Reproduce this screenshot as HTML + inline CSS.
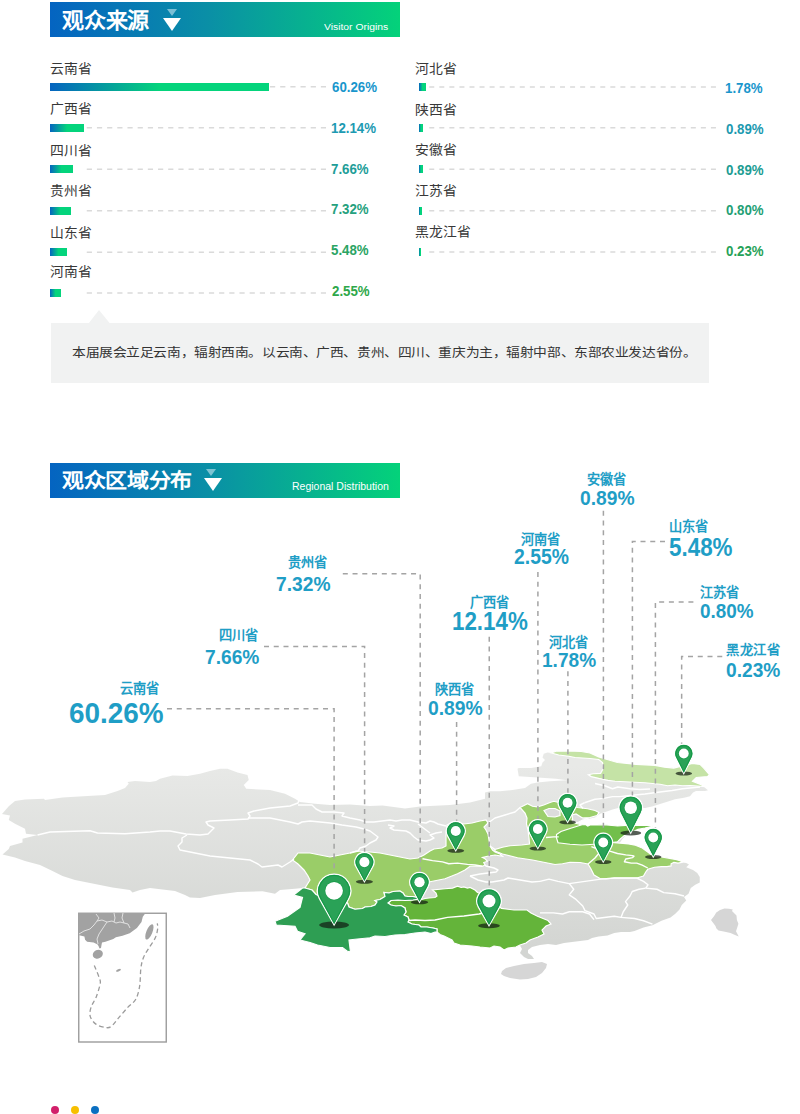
<!DOCTYPE html>
<html lang="zh-CN"><head><meta charset="utf-8">
<style>
*{margin:0;padding:0;box-sizing:border-box}
html,body{width:800px;height:1114px;background:#fff;overflow:hidden;font-family:"Liberation Sans",sans-serif}
body{position:relative}
.a{position:absolute;white-space:nowrap}
.hdr{position:absolute;left:50px;width:350px;height:35px;background:linear-gradient(90deg,#0464c1 0%,#0a8fa6 45%,#04d27a 100%)}
.hdr .t{position:absolute;left:11px;top:4px;font-size:22px;font-weight:bold;color:#fff;line-height:26px;letter-spacing:0}
.hdr .e{position:absolute;right:12px;top:17px;font-size:10.5px;color:#fff;line-height:12px}
.tri1{position:absolute;width:0;height:0;border-left:5.5px solid transparent;border-right:5.5px solid transparent;border-top:7.5px solid rgba(200,230,240,.6)}
.tri2{position:absolute;width:0;height:0;border-left:9.25px solid transparent;border-right:9.25px solid transparent;border-top:13px solid #fff}
.lbl{position:absolute;font-size:13px;color:#333;line-height:16px}
.bar{position:absolute;height:8px;background:linear-gradient(90deg,#0564c0 0%,#04d47c 50%,#04d47c 100%)}
.dash{position:absolute;height:1.5px;background:repeating-linear-gradient(90deg,#dcdcdc 0 5px,transparent 5px 10.3px)}
.pct{position:absolute;font-size:14px;font-weight:bold;line-height:16px;text-align:right;width:80px}
.box{position:absolute;left:51px;top:323px;width:658px;height:60px;background:#f1f2f2}
.box .tx{position:absolute;left:22px;top:21px;font-size:13.3px;letter-spacing:0.42px;color:#333;line-height:18px}
.dot{position:absolute;width:8px;height:8px;border-radius:50%}
</style></head><body>

<!-- header 1 -->
<div class="hdr" style="top:2px">
</div>
<div class="tri1" style="left:166.6px;top:8.9px"></div>
<div class="tri2" style="left:162.7px;top:18px"></div>

<svg class="a" style="left:0;top:0" width="800" height="320" viewBox="0 0 800 320">
<line x1="86.75" y1="86.85" x2="326" y2="86.85" stroke="#dadada" stroke-width="1.5" stroke-dasharray="5.2 4.98"/>
<line x1="86.75" y1="127.85" x2="326" y2="127.85" stroke="#dadada" stroke-width="1.5" stroke-dasharray="5.2 4.98"/>
<line x1="86.75" y1="169.25" x2="326" y2="169.25" stroke="#dadada" stroke-width="1.5" stroke-dasharray="5.2 4.98"/>
<line x1="86.75" y1="210.75" x2="326" y2="210.75" stroke="#dadada" stroke-width="1.5" stroke-dasharray="5.2 4.98"/>
<line x1="86.75" y1="252.25" x2="326" y2="252.25" stroke="#dadada" stroke-width="1.5" stroke-dasharray="5.2 4.98"/>
<line x1="86.75" y1="292.95" x2="326" y2="292.95" stroke="#dadada" stroke-width="1.5" stroke-dasharray="5.2 4.98"/>
<line x1="429.25" y1="86.95" x2="716" y2="86.95" stroke="#dadada" stroke-width="1.5" stroke-dasharray="5 5.06"/>
<line x1="429.25" y1="127.85" x2="716" y2="127.85" stroke="#dadada" stroke-width="1.5" stroke-dasharray="5 5.06"/>
<line x1="429.25" y1="169.15" x2="716" y2="169.15" stroke="#dadada" stroke-width="1.5" stroke-dasharray="5 5.06"/>
<line x1="429.25" y1="210.85" x2="716" y2="210.85" stroke="#dadada" stroke-width="1.5" stroke-dasharray="5 5.06"/>
<line x1="429.25" y1="251.95" x2="716" y2="251.95" stroke="#dadada" stroke-width="1.5" stroke-dasharray="5 5.06"/>
</svg>
<div class="bar" style="left:50.3px;top:82.9px;width:219.10px;height:7.9px"></div>
<div class="bar" style="left:50.25px;top:123.9px;width:33.95px;height:7.9px"></div>
<div class="bar" style="left:50.4px;top:165.3px;width:22.50px;height:7.9px"></div>
<div class="bar" style="left:50.4px;top:206.8px;width:20.40px;height:7.9px"></div>
<div class="bar" style="left:50.4px;top:248.3px;width:16.90px;height:7.9px"></div>
<div class="bar" style="left:50.4px;top:289px;width:10.30px;height:7.9px"></div>
<div class="bar" style="left:418.6px;top:83px;width:7.50px;height:7.9px"></div>
<div class="bar" style="left:418.8px;top:123.9px;width:4.30px;height:7.9px"></div>
<div class="bar" style="left:418.8px;top:165.2px;width:4.30px;height:7.9px"></div>
<div class="bar" style="left:418.8px;top:206.9px;width:3.40px;height:7.9px"></div>
<div class="bar" style="left:418.8px;top:248px;width:2.30px;height:7.9px"></div>






<!-- right column -->





<!-- callout box -->
<svg class="a" style="left:88px;top:309px" width="23" height="15"><polygon points="0.5,14.5 11,1 22,14.5" fill="#f1f2f2"/></svg>
<div class="box"></div>

<!-- header 2 -->
<div class="hdr" style="top:462.5px">
</div>
<div class="tri1" style="left:206.2px;top:468.75px"></div>
<div class="tri2" style="left:204.3px;top:477.75px"></div>

<svg class="a" style="left:0;top:0" width="800" height="1114" viewBox="0 0 800 1114">
<defs><linearGradient id="gg" x1="0" y1="765" x2="0" y2="950" gradientUnits="userSpaceOnUse"><stop offset="0" stop-color="#e8e9e7"/><stop offset="1" stop-color="#d3d5d2"/></linearGradient></defs>
<path d="M2,814 L9,806 L15,801 L25,799.5 L44,798.75 L45,800 L62.5,797.5 L87.5,796 L105,795 L117.5,791 L125,788 L128.75,783.75 L127.5,782 L135,781 L150,782 L156,781 L160,778.75 L172.5,775.5 L187.5,776 L200,773.75 L210,771 L220,768.75 L227.5,768.75 L237.5,772.5 L247.5,775 L248.75,780 L243.75,785 L246.25,788.75 L270,790 L285,793.75 L295,798.75 L300,802 L315,803.75 L330,805 L350,804.5 L370,806 L382.5,805.5 L405,808.5 L420,806.5 L450,805 L470,802.5 L485,798.75 L485,792.5 L490,791.25 L500,791.25 L512.5,790 L525,788 L531,783.75 L537.5,782.5 L550,781.25 L562.5,780.6 L567.5,780.25 L556,778.75 L537.5,777.5 L518.75,776.25 L517.5,768.75 L518.75,768 L531.25,768 L541.25,766.25 L542.5,762.5 L545,760 L542.5,757.5 L543.75,753.75 L547.5,752.5 L551.25,753 L556,751.25 L568.75,751 L581.25,751.5 L590,753 L598.75,756.9 L608,759.7 L617.5,762.5 L636.25,764.4 L655,765.3 L664.4,767.2 L673.75,768.1 L692.5,763.4 L700,764.4 L703.75,768.1 L709.4,774.7 L707.5,776.6 L696.25,777.5 L692.5,781.25 L701.9,785 L703.5,786.5 L708,790.25 L705,791 L696,791 L693,792.5 L690,796.25 L684,797.75 L675,799.25 L668,801.5 L660,804 L652,806.5 L645,808 L632,807.5 L620,807.5 L612.5,809.4 L607.5,811.25 L600,813.75 L595,817.5 L588.75,818.75 L582.5,820 L578,822.5 L580,824.5 L582.5,824.4 L588.75,826.25 L595,825 L602.5,825.6 L607.5,827.5 L613.75,829 L617.5,827.5 L622.5,826.25 L630,826.25 L638.75,825.6 L645,825.6 L651.25,825 L653,825.6 L645,826.9 L638.75,828 L632.5,831.25 L626.25,835 L622.5,838.75 L620,842.5 L620.25,843.2 L628.5,843.9 L635.4,845.25 L642.25,848 L647.75,852.1 L653.25,856.25 L661.5,857 L669.75,858.3 L676.6,859.7 L680.75,861 L682,862.4 L686.25,863.1 L689,864.5 L686.25,867.25 L693,870 L697.25,873 L699.75,877 L699.75,882.5 L695.25,884.75 L690.75,888 L688.5,893.75 L684,897 L686.25,900.5 L681.75,905 L679.5,909.5 L675,914 L670.5,917.4 L661.5,920.75 L657,923 L652.5,925.25 L643.5,927.5 L634.5,931 L630,932 L621,932 L614.25,933.1 L607.5,935.4 L598.5,936.5 L592,938 L588,940 L580,941 L572,942 L564,943 L556,945 L548,944 L540,945 L532,947 L528,950 L528,953 L532,956 L534,959 L528,959 L524,957 L520,953 L522,949 L520,945.5 L516,947 L508,948 L504,950 L500,947 L494,946 L490,948 L480,947 L472,946 L460,945 L454,943 L452,940 L444,936 L440,934.5 L437,932 L435,932 L431,933.5 L425,932 L415,933 L405,934.5 L395,935 L385,936.5 L375,936 L370,937.75 L362.5,938.5 L355,939.25 L349,940 L350.5,952 L347,951 L342.5,947.5 L330,947.5 L317.5,945 L310,942.5 L300,940 L305,933.75 L297.5,931.25 L295,926.25 L276.25,925 L275,921.25 L287.5,916.25 L300,907.5 L302.5,897.5 L293.75,895 L302.5,888 L295,888.75 L280,890 L275,893.75 L262.5,891.25 L237.5,892 L215,895 L200,898 L190,897.5 L185,895 L175,891 L150,888 L140,890 L132.5,892.5 L130,890 L112.5,887.5 L100,885 L87.5,882.5 L75,880 L62.5,876 L52.5,871 L40,865 L25,861 L15,857.5 L2.5,854.5 L8.75,849 L10,846 L22.5,842.5 L22.5,838.75 L37.5,835 L26,833.75 L25,828.75 L15,823.75 L8.75,820 L10,815.5 Z" fill="url(#gg)"/>
<path d="M502,971 L506,968 L514,966 L524,964 L534,963 L542,962 L547,964 L546,968 L542,973 L536,977 L528,979 L520,979.6 L510,978 L504,976 L501,974 Z" fill="#d6d6d6"/>
<path d="M711,920 L714,916.25 L716.25,912.5 L720,909.9 L724.5,908.4 L729,908.75 L732.75,909.5 L732,911 L735,914 L736.5,915.5 L736.9,920 L738.4,923.75 L737.25,927.5 L736,931.25 L738.75,936.5 L735,935 L730.5,933.1 L723.75,931.6 L718.5,930.5 L716.25,928.25 L715.5,926 L713.25,923 Z" fill="#d6d6d6"/>
<path d="M551.25,753 L556,751.25 L568.75,751 L581.25,751.5 L590,753 L598.75,756.9 L608,759.7 L617.5,762.5 L636.25,764.4 L655,765.3 L664.4,767.2 L673.75,768.1 L692.5,763.4 L700,764.4 L703.75,768.1 L709.4,774.7 L707.5,776.6 L696.25,777.5 L692.5,781.25 L701.9,785 L703.5,786.5 L697.5,786 L690,785.5 L682.5,785.75 L675,785 L667.5,785.75 L660,784.25 L645,782.75 L630,782 L615,781.25 L608,780.3 L598.75,778.4 L591.25,776.6 L588.4,774.7 L593.1,773.75 L600.6,773.4 L603.4,768.1 L602.5,762.5 L598.75,759.5 L590,758.5 L575,757.5 L568.75,756.25 L558.75,755 Z" fill="#c5e3a6" stroke="#fff" stroke-width="1.2"/>
<path d="M292.5,860 L298,853 L310,853 L320,855 L330,857 L340,855 L350,853 L356,851 L370,852 L380,853 L390,855 L400,857 L410,859 L418,858 L424,855 L430,851 L434,849 L442,848 L446,846 L446,835 L447,825 L455,822 L464,824 L472,823 L480,821 L486,820 L488,823 L484,827 L486,830 L488,834 L489,840 L490,846 L492.5,850 L495,852 L500,854 L502.5,856.25 L495,855 L487.5,856.25 L482.5,857.5 L485,858.75 L487.5,861.25 L483.75,862.5 L485,865 L482.5,866.25 L470,866.25 L465,870 L457.5,873.75 L451.25,876.25 L445,878.75 L438.75,880 L432.5,881.25 L426.25,882.5 L421,884 L418,895 L417,897.5 L413,896.5 L408,896.5 L405,896 L403,893 L400,891 L393,891.5 L389,893 L384,892.5 L385,896.5 L380,899.5 L375,900.5 L377,902 L375,905 L371,906.5 L365,907 L362.5,908.5 L355,909.25 L349,907 L347.5,903 L334,900 L322,897 L316,894.5 L312,890 L305,888 L310,880 L308,876 L304,870 L298,864 Z" fill="#9acd68" stroke="#fff" stroke-width="1.2"/>
<path d="M520,807.5 L525,805 L527.5,803.75 L532.5,806.25 L537.5,806.9 L543.75,805 L550,802.5 L553.75,801.25 L558.75,802.5 L567,804 L577.5,807.5 L587.5,808.75 L595,810.5 L599,812.5 L597,815.5 L590,817.5 L582.5,818 L576,817 L572,820 L575,823 L580,824.5 L600,832 L612,842.5 L620.25,843.2 L628.5,843.9 L635.4,845.25 L642.25,848 L647.75,852.1 L653.25,856.25 L661.5,857 L669.75,858.3 L676.6,859.7 L680.75,861 L682,862.4 L678,863.1 L673.9,862.4 L671.1,863.8 L671.1,865.9 L667,866.6 L661.5,866.6 L654.6,867.25 L647.75,869.3 L645.75,872 L643.5,876 L636.75,878 L625,878 L614.25,878 L606,879 L600,878.5 L594,875 L591,869 L588,864 L580,862.5 L570,862.25 L562.5,863.75 L555,864.5 L547.5,863 L532.5,860 L517.5,857.75 L502.5,854 L495,851 L495,849.5 L502.5,847.25 L510,845.75 L522,845 L529.5,844 L529,838 L528,830 L526.5,824 L527,818 L525,813 Z" fill="#9ccf6c" stroke="#fff" stroke-width="1.2"/>
<path d="M544,810.5 L549,808.5 L555,808.5 L560,811 L560,815.5 L555,817 L548,816.5 Z" fill="#dcdcdc" stroke="#fff" stroke-width="1.2"/>
<path d="M572,815 L576,814 L582.5,818 L588.75,818.75 L582.5,820 L578,822.5 L573,822 Z" fill="#dcdcdc" stroke="#fff" stroke-width="1.2"/>
<path d="M556.5,834.5 L561,831.5 L570,828.5 L582,824.75 L585.5,824.6 L587.75,826 L590,825 L597.5,825 L603.75,824.6 L617.5,826 L625.75,825.3 L638,825.3 L652,825.3 L653.25,826 L645,828 L638,829.4 L631.25,832.2 L624.4,835.6 L620.25,839 L617.5,841.8 L612,842.5 L603.75,844 L594,844.25 L582,845 L570,844.25 L558,842.75 L556.5,838 Z" fill="#72bf4b" stroke="#fff" stroke-width="1.2"/>
<path d="M388,903 L391,900.5 L398,900 L405,900.5 L413,900 L417,899.5 L420,900 L425,898.5 L429,898 L435,897.5 L437,896 L436,893 L432.5,890 L445,888.75 L452.5,888.1 L457.5,886.25 L461.25,887.5 L463.75,886.9 L467.5,888.1 L470,887.5 L475,890 L477.5,892.5 L482.5,893.75 L489,896 L497,905 L501.5,908.4 L514,910 L527,910 L531,913 L537.5,916.25 L548,920.5 L551,924 L546,926 L542,930 L544,934 L538,937 L530,940 L526,943 L520,945 L516,947 L508,948 L504,950 L500,947 L494,946 L490,948 L480,947 L472,946 L460,945 L454,943 L452,940 L444,936 L440,934.5 L437,932 L437,929 L433,928 L427,927 L421,927 L419,925 L412,924 L408,922 L409,920 L408,917 L404,915 L406,912 L405,908 L401,905.5 L396,906 L391,905 Z" fill="#64b43a" stroke="#fff" stroke-width="1.2"/>
<path d="M305,888 L312,890 L316,894.5 L322,897 L334,900 L347.5,903 L349,907 L355,909.25 L362.5,908.5 L365,907 L371,906.5 L375,905 L377,902 L375,900.5 L380,899.5 L385,896.5 L384,892.5 L389,893 L393,891.5 L400,891 L403,893 L405,896 L408,896.5 L413,896.5 L417,897.5 L420,899 L413,900 L405,900.5 L398,900 L391,900.5 L388,903 L391,905 L396,906 L401,905.5 L405,908 L406,912 L404,915 L408,917 L409,920 L408,922 L412,924 L419,925 L421,927 L427,927 L433,928 L437,929 L437,932 L435,932 L431,933.5 L425,932 L415,933 L405,934.5 L395,935 L385,936.5 L375,936 L370,937.75 L362.5,938.5 L355,939.25 L349,940 L350.5,952 L347,951 L342.5,947.5 L330,947.5 L317.5,945 L310,942.5 L300,940 L305,933.75 L297.5,931.25 L295,926.25 L276.25,925 L275,921.25 L287.5,916.25 L300,907.5 L302.5,897.5 L293.75,895 L302.5,888 Z" fill="#2e9e53" stroke="#fff" stroke-width="1.2"/>
<path d="M37.5,835 L50,832 L90,830.75 L97.5,833 L125,833.75 L150,832 L160,831 L170,831 L186,834 L200,835 L208,834 L212,830 L214,828 L208,825 L206,822 L210,821 L230,820 L248,819 L250,816 L248,813 L254,811 L270,808 L290,806 L298,803 L299,800" fill="none" stroke="#fff" stroke-width="1.4" stroke-linejoin="round"/>
<path d="M248,818 L270,818 L290,822 L298,824 L302,822 L310,821 L320,822 L330,823 L342,825 L356,827 L364,829 L370,831 L374,834 L378,837 L376,840 L370,843 L366,846 L360,848 L358,851 L350,853" fill="none" stroke="#fff" stroke-width="1.4" stroke-linejoin="round"/>
<path d="M187,835 L182,838 L182,842 L178,846 L180,850 L190,852 L200,854 L210,856 L230,858 L250,860 L258,864 L262,867 L270,866 L278,865 L282,867 L290,862 L294,859" fill="none" stroke="#fff" stroke-width="1.4" stroke-linejoin="round"/>
<path d="M298,805 L312,805 L316,809 L322,812 L334,812 L344,813 L342,816 L350,818 L360,820 L366,822 L374,822 L382,821 L390,820 L396,821 L402,820 L410,820 L418,822 L426,823 L430,821 L434,822 L438,824 L446,826" fill="none" stroke="#fff" stroke-width="1.4" stroke-linejoin="round"/>
<path d="M388,825 L394,826 L390,828 L394,830 L406,831 L410,833 L414,837 L418,840 L426,841 L430,840 L434,838 L430,835 L436,833 L442,832" fill="none" stroke="#fff" stroke-width="1.4" stroke-linejoin="round"/>
<path d="M418,824 L422,827 L426,830 L430,833" fill="none" stroke="#fff" stroke-width="1.4" stroke-linejoin="round"/>
<path d="M422.5,858.75 L432.5,860.6 L442.5,861.9 L448.75,863.75 L457.5,863.1 L467.5,864.4 L475,865 L482.5,866.25" fill="none" stroke="#fff" stroke-width="1.4" stroke-linejoin="round"/>
<path d="M409,920.5 L415,920 L425,920.5 L435,920 L447.5,917.4 L464,916 L479,914 L497,909.5" fill="none" stroke="#fff" stroke-width="1.4" stroke-linejoin="round"/>
<path d="M540,881.4 L549,879.1 L558,881.4 L569.25,883.6 L585,881.4 L600.75,879.1 L614.25,878 L636.75,878 L643.5,881.4 L648,884.75 L645.75,888.1" fill="none" stroke="#fff" stroke-width="1.4" stroke-linejoin="round"/>
<path d="M569.25,883.6 L573.75,889.25 L569.25,894.9 L576,899.4 L582.75,906 L585,910.6 L594,914 L596.25,918.5 L614.25,916.25 L621,917.4 L623.25,911.75 L627.75,905 L625.5,901.6 L630,896 L632.25,891.5 L639,889.25 L645.75,888.1" fill="none" stroke="#fff" stroke-width="1.4" stroke-linejoin="round"/>
<path d="M645.75,888.1 L657,889.25 L663.75,892.6 L675,893.75 L684,896" fill="none" stroke="#fff" stroke-width="1.4" stroke-linejoin="round"/>
<path d="M621,917.4 L634.5,918.5 L643.5,920.75 L652.5,924.1" fill="none" stroke="#fff" stroke-width="1.4" stroke-linejoin="round"/>
<path d="M540,912.9 L553.5,912.9 L562.5,914 L569.25,911.75 L582.75,911.75 L589.5,914 L594,919.6" fill="none" stroke="#fff" stroke-width="1.4" stroke-linejoin="round"/>
<path d="M492,882 L504,880 L508,878 L520,880 L532,882 L540,881.4" fill="none" stroke="#fff" stroke-width="1.4" stroke-linejoin="round"/>
<path d="M470,876 L480,874 L488,873 L496,872 L498,870 L494,868 L486,866 L485,865" fill="none" stroke="#fff" stroke-width="1.4" stroke-linejoin="round"/>
<path d="M470,876 L478,880 L486,882 L492,882" fill="none" stroke="#fff" stroke-width="1.4" stroke-linejoin="round"/>
<path d="M584.5,802.75 L595,799.25 L603.75,798.4 L612.5,796.6 L619.5,796.6 L630,795.5 L645,794 L658,792.25 L672,790.5 L682.5,788.75 L700,787" fill="none" stroke="#fff" stroke-width="1.4" stroke-linejoin="round"/>
<path d="M583,808.5 L580,805 L584.5,802.75" fill="none" stroke="#fff" stroke-width="1.4" stroke-linejoin="round"/>
<path d="M595,783.5 L605.5,786 L612.5,788.75 L617.75,787 L630,788.75 L640,789.5 L650,789" fill="none" stroke="#fff" stroke-width="1.4" stroke-linejoin="round"/>
<path d="M546,837.5 L553.75,836.9 L558.75,836.9" fill="none" stroke="#fff" stroke-width="1.4" stroke-linejoin="round"/>
<path d="M591.4,846.6 L600,850 L610.6,851.4 L617.5,853.5 L625.75,854.9 L632.6,855.6 L634,856.25 L632.6,857.6 L625.75,859 L624.4,861.75 L631.25,863.1 L636.75,863.1 L642.25,865.2 L647.75,868" fill="none" stroke="#fff" stroke-width="1.4" stroke-linejoin="round"/>
<path d="M588,864 L595,858 L600,852" fill="none" stroke="#fff" stroke-width="1.4" stroke-linejoin="round"/>
<path d="M488,823 L495,818 L505,815 L515,812 L520,807.5" fill="none" stroke="#fff" stroke-width="1.4" stroke-linejoin="round"/>
<path d="M490,846 L495,849.5" fill="none" stroke="#fff" stroke-width="1.4" stroke-linejoin="round"/>
<path d="M167,708.7 L334.1,708.7 L334.1,874" fill="none" stroke="#a4a4a4" stroke-width="1.5" stroke-dasharray="5 4.75"/>
<path d="M264,646.4 L364.6,646.4 L364.6,852.5" fill="none" stroke="#a4a4a4" stroke-width="1.5" stroke-dasharray="5 4.75"/>
<path d="M342.8,573.8 L420.2,573.8 L420.2,872.5" fill="none" stroke="#a4a4a4" stroke-width="1.5" stroke-dasharray="5 4.75"/>
<path d="M489.25,636.75 L489.25,888.7" fill="none" stroke="#a4a4a4" stroke-width="1.5" stroke-dasharray="5 4.75"/>
<path d="M456.6,721.9 L456.6,821.5" fill="none" stroke="#a4a4a4" stroke-width="1.5" stroke-dasharray="5 4.75"/>
<path d="M537.9,571.9 L537.9,819.6" fill="none" stroke="#a4a4a4" stroke-width="1.5" stroke-dasharray="5 4.75"/>
<path d="M567.9,671.25 L567.9,793.4" fill="none" stroke="#a4a4a4" stroke-width="1.5" stroke-dasharray="5 4.75"/>
<path d="M603.4,510.75 L603.4,833" fill="none" stroke="#a4a4a4" stroke-width="1.5" stroke-dasharray="5 4.75"/>
<path d="M665,541.4 L632.4,541.4 L632.4,796" fill="none" stroke="#a4a4a4" stroke-width="1.5" stroke-dasharray="5 4.75"/>
<path d="M693.4,602.1 L655.4,602.1 L655.4,828" fill="none" stroke="#a4a4a4" stroke-width="1.5" stroke-dasharray="5 4.75"/>
<path d="M722.25,656.4 L681.65,656.4 L681.65,744" fill="none" stroke="#a4a4a4" stroke-width="1.5" stroke-dasharray="5 4.75"/>
<ellipse cx="334.10" cy="925.00" rx="14.86" ry="3.51" fill="rgba(20,30,20,0.72)"/>
<path d="M334.10,925.00 L348.67,898.95 A16.70,16.70 0 1 0 319.53,898.95 Z" fill="#2aa257" stroke="#fff" stroke-width="1.3"/>
<path d="M334.10,923.20 L347.59,898.02 A15.30,15.30 0 1 0 320.61,898.02 Z" fill="none" stroke="#159a47" stroke-width="1.1"/>
<circle cx="334.10" cy="890.80" r="9.45" fill="#159a47"/>
<circle cx="334.10" cy="890.80" r="8.85" fill="#fff"/>
<ellipse cx="364.40" cy="881.75" rx="8.54" ry="2.02" fill="rgba(20,30,20,0.72)"/>
<path d="M364.40,881.75 L372.78,866.79 A9.60,9.60 0 1 0 356.02,866.79 Z" fill="#2aa257" stroke="#fff" stroke-width="1.3"/>
<path d="M364.40,879.95 L371.68,865.87 A8.20,8.20 0 1 0 357.12,865.87 Z" fill="none" stroke="#159a47" stroke-width="1.1"/>
<circle cx="364.40" cy="862.10" r="5.69" fill="#159a47"/>
<circle cx="364.40" cy="862.10" r="5.09" fill="#fff"/>
<ellipse cx="419.50" cy="902.25" rx="8.68" ry="2.05" fill="rgba(20,30,20,0.72)"/>
<path d="M419.50,902.25 L428.02,886.94 A9.75,9.75 0 1 0 410.98,886.94 Z" fill="#2aa257" stroke="#fff" stroke-width="1.3"/>
<path d="M419.50,900.45 L426.92,886.02 A8.35,8.35 0 1 0 412.08,886.02 Z" fill="none" stroke="#159a47" stroke-width="1.1"/>
<circle cx="419.50" cy="882.20" r="5.77" fill="#159a47"/>
<circle cx="419.50" cy="882.20" r="5.17" fill="#fff"/>
<ellipse cx="489.00" cy="925.75" rx="10.90" ry="2.57" fill="rgba(20,30,20,0.72)"/>
<path d="M489.00,925.75 L499.64,907.06 A12.25,12.25 0 1 0 478.36,907.06 Z" fill="#2aa257" stroke="#fff" stroke-width="1.3"/>
<path d="M489.00,923.95 L498.56,906.13 A10.85,10.85 0 1 0 479.44,906.13 Z" fill="none" stroke="#159a47" stroke-width="1.1"/>
<circle cx="489.00" cy="901.00" r="7.09" fill="#159a47"/>
<circle cx="489.00" cy="901.00" r="6.49" fill="#fff"/>
<ellipse cx="455.75" cy="850.75" rx="8.46" ry="1.99" fill="rgba(20,30,20,0.72)"/>
<path d="M455.75,850.75 L464.08,835.57 A9.50,9.50 0 1 0 447.42,835.57 Z" fill="#2aa257" stroke="#fff" stroke-width="1.3"/>
<path d="M455.75,848.95 L462.98,834.66 A8.10,8.10 0 1 0 448.52,834.66 Z" fill="none" stroke="#159a47" stroke-width="1.1"/>
<circle cx="455.75" cy="831.00" r="5.63" fill="#159a47"/>
<circle cx="455.75" cy="831.00" r="5.04" fill="#fff"/>
<ellipse cx="537.80" cy="848.50" rx="8.28" ry="1.95" fill="rgba(20,30,20,0.72)"/>
<path d="M537.80,848.50 L545.97,833.44 A9.30,9.30 0 1 0 529.63,833.44 Z" fill="#2aa257" stroke="#fff" stroke-width="1.3"/>
<path d="M537.80,846.70 L544.87,832.53 A7.90,7.90 0 1 0 530.73,832.53 Z" fill="none" stroke="#159a47" stroke-width="1.1"/>
<circle cx="537.80" cy="829.00" r="5.53" fill="#159a47"/>
<circle cx="537.80" cy="829.00" r="4.93" fill="#fff"/>
<ellipse cx="567.60" cy="822.25" rx="8.37" ry="1.97" fill="rgba(20,30,20,0.72)"/>
<path d="M567.60,822.25 L575.83,807.34 A9.40,9.40 0 1 0 559.37,807.34 Z" fill="#2aa257" stroke="#fff" stroke-width="1.3"/>
<path d="M567.60,820.45 L574.73,806.43 A8.00,8.00 0 1 0 560.47,806.43 Z" fill="none" stroke="#159a47" stroke-width="1.1"/>
<circle cx="567.60" cy="802.80" r="5.58" fill="#159a47"/>
<circle cx="567.60" cy="802.80" r="4.98" fill="#fff"/>
<ellipse cx="630.75" cy="833.00" rx="10.46" ry="2.47" fill="rgba(20,30,20,0.72)"/>
<path d="M630.75,833.00 L641.15,813.22 A11.75,11.75 0 1 0 620.35,813.22 Z" fill="#2aa257" stroke="#fff" stroke-width="1.3"/>
<path d="M630.75,831.20 L640.04,812.32 A10.35,10.35 0 1 0 621.46,812.32 Z" fill="none" stroke="#159a47" stroke-width="1.1"/>
<circle cx="630.75" cy="807.75" r="6.83" fill="#159a47"/>
<circle cx="630.75" cy="807.75" r="6.23" fill="#fff"/>
<ellipse cx="603.25" cy="862.00" rx="8.28" ry="1.95" fill="rgba(20,30,20,0.72)"/>
<path d="M603.25,862.00 L611.42,846.94 A9.30,9.30 0 1 0 595.08,846.94 Z" fill="#2aa257" stroke="#fff" stroke-width="1.3"/>
<path d="M603.25,860.20 L610.32,846.03 A7.90,7.90 0 1 0 596.18,846.03 Z" fill="none" stroke="#159a47" stroke-width="1.1"/>
<circle cx="603.25" cy="842.50" r="5.53" fill="#159a47"/>
<circle cx="603.25" cy="842.50" r="4.93" fill="#fff"/>
<ellipse cx="653.25" cy="857.00" rx="8.28" ry="1.95" fill="rgba(20,30,20,0.72)"/>
<path d="M653.25,857.00 L661.42,841.94 A9.30,9.30 0 1 0 645.08,841.94 Z" fill="#2aa257" stroke="#fff" stroke-width="1.3"/>
<path d="M653.25,855.20 L660.32,841.03 A7.90,7.90 0 1 0 646.18,841.03 Z" fill="none" stroke="#159a47" stroke-width="1.1"/>
<circle cx="653.25" cy="837.50" r="5.53" fill="#159a47"/>
<circle cx="653.25" cy="837.50" r="4.93" fill="#fff"/>
<ellipse cx="683.80" cy="773.50" rx="8.28" ry="1.95" fill="rgba(20,30,20,0.72)"/>
<path d="M683.80,773.50 L692.03,757.82 A9.30,9.30 0 1 0 675.57,757.82 Z" fill="#2aa257" stroke="#fff" stroke-width="1.3"/>
<path d="M683.80,771.70 L690.92,756.93 A7.90,7.90 0 1 0 676.68,756.93 Z" fill="none" stroke="#159a47" stroke-width="1.1"/>
<circle cx="683.80" cy="753.50" r="5.53" fill="#159a47"/>
<circle cx="683.80" cy="753.50" r="4.93" fill="#fff"/>
</svg>
<svg class="a" style="left:0;top:0" width="800" height="1114" viewBox="0 0 800 1114">
<rect x="78.75" y="913.25" width="87.5" height="128.75" fill="#fff" stroke="#9c9c9c" stroke-width="1.4"/>
<path d="M78.1,913 L145.5,913 L142.8,916.8 L141.5,922.1 L136.9,928 L129.7,933.2 L122.5,935.8 L115.9,937.2 L113.3,939.1 L105.4,941.75 L102,942.5 L101.5,945 L101,948 L99.5,948.5 L98.5,946 L97.6,944.4 L93.6,942.4 L87.1,941.75 L85.1,939.8 L84.4,936.5 L79.2,935.2 L78.1,935.2 Z" fill="#a2a2a2"/>
<ellipse cx="97.8" cy="954.2" rx="5.2" ry="4.3" transform="rotate(-25 97.8 954.2)" fill="#a2a2a2"/>
<ellipse cx="149.4" cy="931.9" rx="3" ry="8.2" transform="rotate(22 149.4 931.9)" fill="#a2a2a2"/>
<ellipse cx="118.5" cy="970.3" rx="2.6" ry="1.1" transform="rotate(-25 118.5 970.3)" fill="#a2a2a2"/>
<path d="M94.30,965.40 C95.17,967.58 98.52,975.44 99.50,978.50 C100.48,981.56 100.74,980.68 100.20,983.75 C99.66,986.82 97.78,992.96 96.25,996.90 C94.72,1000.84 91.99,1004.12 91.00,1007.40 C90.01,1010.68 89.42,1013.77 90.30,1016.60 C91.17,1019.43 93.51,1022.55 96.25,1024.40 C98.99,1026.25 104.12,1027.48 106.75,1027.70 C109.38,1027.92 110.03,1027.38 112.00,1025.75 C113.97,1024.12 115.97,1020.96 118.60,1017.90 C121.22,1014.84 124.92,1010.47 127.75,1007.40 C130.58,1004.33 133.62,1003.00 135.60,999.50 C137.57,996.00 138.72,991.65 139.60,986.40 C140.48,981.15 140.25,972.82 140.90,968.00 C141.55,963.18 142.19,960.78 143.50,957.50 C144.81,954.22 146.78,951.58 148.75,948.30 C150.72,945.02 153.81,941.08 155.30,937.80 C156.79,934.52 157.37,931.00 157.70,928.60 C158.03,926.20 157.37,924.27 157.30,923.40" fill="none" stroke="#9c9c9c" stroke-width="1.3" stroke-dasharray="4.5 3"/>
<path d="M79,934 L84,931 L90,929 L94,925 L97,921 L99,918 L96,914" fill="none" stroke="#e8e8e8" stroke-width="0.9"/>
<path d="M97,921 L102,920 L107,922 L112,921 L116,923 L120,922 L124,923" fill="none" stroke="#e8e8e8" stroke-width="0.9"/>
<path d="M114,913 L115,918 L114,922" fill="none" stroke="#e8e8e8" stroke-width="0.9"/>
<path d="M123,913 L122,918 L124,923" fill="none" stroke="#e8e8e8" stroke-width="0.9"/>
<path d="M124,923 L128,924 L130,928" fill="none" stroke="#e8e8e8" stroke-width="0.9"/>
<path d="M107,922 L103,928 L99,934 L97,939 L98,944" fill="none" stroke="#e8e8e8" stroke-width="0.9"/>
</svg>
<div class="a" style="left:62.00px;top:10.46px;font-size:21.200px;line-height:1;font-weight:bold;color:#fff;transform:scaleX(1.0377);transform-origin:0 0;">观众来源</div>
<div class="a" style="left:323.50px;top:21.88px;font-size:9.660px;line-height:1;font-weight:normal;color:#fff;transform:scaleX(1.0702);transform-origin:0 0;">Visitor Origins</div>
<div class="a" style="left:61.75px;top:471.42px;font-size:20.300px;line-height:1;font-weight:bold;color:#fff;transform:scaleX(1.0833);transform-origin:0 0;">观众区域分布</div>
<div class="a" style="left:291.50px;top:481.52px;font-size:10.290px;line-height:1;font-weight:normal;color:#fff;transform:scaleX(1.0204);transform-origin:0 0;">Regional Distribution</div>
<div class="a" style="left:50.24px;top:61.90px;font-size:13.000px;line-height:1;font-weight:normal;color:#383838;transform:scaleX(1.0649);transform-origin:0 0;">云南省</div>
<div class="a" style="left:49.94px;top:102.00px;font-size:13.000px;line-height:1;font-weight:normal;color:#383838;transform:scaleX(1.0649);transform-origin:0 0;">广西省</div>
<div class="a" style="left:50.34px;top:144.30px;font-size:13.000px;line-height:1;font-weight:normal;color:#383838;transform:scaleX(1.0649);transform-origin:0 0;">四川省</div>
<div class="a" style="left:50.34px;top:184.20px;font-size:13.000px;line-height:1;font-weight:normal;color:#383838;transform:scaleX(1.0649);transform-origin:0 0;">贵州省</div>
<div class="a" style="left:50.34px;top:225.70px;font-size:13.000px;line-height:1;font-weight:normal;color:#383838;transform:scaleX(1.0649);transform-origin:0 0;">山东省</div>
<div class="a" style="left:49.94px;top:265.30px;font-size:13.000px;line-height:1;font-weight:normal;color:#383838;transform:scaleX(1.0649);transform-origin:0 0;">河南省</div>
<div class="a" style="left:414.94px;top:62.10px;font-size:13.000px;line-height:1;font-weight:normal;color:#383838;transform:scaleX(1.0649);transform-origin:0 0;">河北省</div>
<div class="a" style="left:414.94px;top:102.60px;font-size:13.000px;line-height:1;font-weight:normal;color:#383838;transform:scaleX(1.0649);transform-origin:0 0;">陕西省</div>
<div class="a" style="left:414.94px;top:143.00px;font-size:13.000px;line-height:1;font-weight:normal;color:#383838;transform:scaleX(1.0649);transform-origin:0 0;">安徽省</div>
<div class="a" style="left:414.94px;top:184.10px;font-size:13.000px;line-height:1;font-weight:normal;color:#383838;transform:scaleX(1.0649);transform-origin:0 0;">江苏省</div>
<div class="a" style="left:414.94px;top:225.20px;font-size:13.000px;line-height:1;font-weight:normal;color:#383838;transform:scaleX(1.0649);transform-origin:0 0;">黑龙江省</div>
<div class="a" style="left:332.10px;top:79.28px;font-size:15.540px;line-height:1;font-weight:bold;color:#1996cc;transform:scaleX(0.8559);transform-origin:0 0;">60.26%</div>
<div class="a" style="left:331.15px;top:119.98px;font-size:15.540px;line-height:1;font-weight:bold;color:#1d9ab2;transform:scaleX(0.8559);transform-origin:0 0;">12.14%</div>
<div class="a" style="left:331.15px;top:160.68px;font-size:15.540px;line-height:1;font-weight:bold;color:#219d98;transform:scaleX(0.8559);transform-origin:0 0;">7.66%</div>
<div class="a" style="left:331.15px;top:201.38px;font-size:15.540px;line-height:1;font-weight:bold;color:#26a17e;transform:scaleX(0.8559);transform-origin:0 0;">7.32%</div>
<div class="a" style="left:331.15px;top:242.08px;font-size:15.540px;line-height:1;font-weight:bold;color:#2aa464;transform:scaleX(0.8559);transform-origin:0 0;">5.48%</div>
<div class="a" style="left:332.10px;top:282.78px;font-size:15.540px;line-height:1;font-weight:bold;color:#2ea84a;transform:scaleX(0.8559);transform-origin:0 0;">2.55%</div>
<div class="a" style="left:724.55px;top:80.38px;font-size:15.540px;line-height:1;font-weight:bold;color:#1996cc;transform:scaleX(0.8559);transform-origin:0 0;">1.78%</div>
<div class="a" style="left:725.50px;top:121.08px;font-size:15.540px;line-height:1;font-weight:bold;color:#1c99af;transform:scaleX(0.8559);transform-origin:0 0;">0.89%</div>
<div class="a" style="left:725.50px;top:161.78px;font-size:15.540px;line-height:1;font-weight:bold;color:#209c92;transform:scaleX(0.8559);transform-origin:0 0;">0.89%</div>
<div class="a" style="left:725.50px;top:202.48px;font-size:15.540px;line-height:1;font-weight:bold;color:#249f75;transform:scaleX(0.8559);transform-origin:0 0;">0.80%</div>
<div class="a" style="left:725.50px;top:243.18px;font-size:15.540px;line-height:1;font-weight:bold;color:#27a258;transform:scaleX(0.8559);transform-origin:0 0;">0.23%</div>
<div class="a" style="left:72.47px;top:346.51px;font-size:12.160px;line-height:1;font-weight:normal;color:#333;transform:scaleX(1.1309);transform-origin:0 0;">本届展会立足云南，辐射西南。以云南、广西、贵州、四川、重庆为主，辐射中部、东部农业发达省份。</div>
<div class="a" style="left:120.30px;top:681.90px;font-size:13.100px;line-height:1;font-weight:bold;color:#1f9ec6;transform:scaleX(1.0102);transform-origin:0 0;">云南省</div>
<div class="a" style="left:68.85px;top:697.86px;font-size:30.286px;line-height:1;font-weight:bold;color:#1f9ec6;transform:scaleX(0.9220);transform-origin:0 0;">60.26%</div>
<div class="a" style="left:218.68px;top:628.80px;font-size:13.100px;line-height:1;font-weight:bold;color:#1f9ec6;transform:scaleX(1.0102);transform-origin:0 0;">四川省</div>
<div class="a" style="left:205.04px;top:645.63px;font-size:21.143px;line-height:1;font-weight:bold;color:#1f9ec6;transform:scaleX(0.9081);transform-origin:0 0;">7.66%</div>
<div class="a" style="left:287.50px;top:555.80px;font-size:13.100px;line-height:1;font-weight:bold;color:#1f9ec6;transform:scaleX(1.0102);transform-origin:0 0;">贵州省</div>
<div class="a" style="left:275.94px;top:573.50px;font-size:20.000px;line-height:1;font-weight:bold;color:#1f9ec6;transform:scaleX(0.9609);transform-origin:0 0;">7.32%</div>
<div class="a" style="left:470.20px;top:595.50px;font-size:13.100px;line-height:1;font-weight:bold;color:#1f9ec6;transform:scaleX(1.0102);transform-origin:0 0;">广西省</div>
<div class="a" style="left:452.13px;top:608.86px;font-size:25.571px;line-height:1;font-weight:bold;color:#1f9ec6;transform:scaleX(0.8740);transform-origin:0 0;">12.14%</div>
<div class="a" style="left:434.98px;top:683.10px;font-size:13.100px;line-height:1;font-weight:bold;color:#1f9ec6;transform:scaleX(1.0102);transform-origin:0 0;">陕西省</div>
<div class="a" style="left:428.43px;top:697.51px;font-size:20.571px;line-height:1;font-weight:bold;color:#1f9ec6;transform:scaleX(0.9386);transform-origin:0 0;">0.89%</div>
<div class="a" style="left:521.00px;top:532.50px;font-size:13.100px;line-height:1;font-weight:bold;color:#1f9ec6;transform:scaleX(1.0102);transform-origin:0 0;">河南省</div>
<div class="a" style="left:513.78px;top:546.54px;font-size:21.429px;line-height:1;font-weight:bold;color:#1f9ec6;transform:scaleX(0.9036);transform-origin:0 0;">2.55%</div>
<div class="a" style="left:549.00px;top:636.25px;font-size:13.100px;line-height:1;font-weight:bold;color:#1f9ec6;transform:scaleX(1.0102);transform-origin:0 0;">河北省</div>
<div class="a" style="left:542.15px;top:650.45px;font-size:20.357px;line-height:1;font-weight:bold;color:#1f9ec6;transform:scaleX(0.9378);transform-origin:0 0;">1.78%</div>
<div class="a" style="left:586.98px;top:472.60px;font-size:13.100px;line-height:1;font-weight:bold;color:#1f9ec6;transform:scaleX(1.0102);transform-origin:0 0;">安徽省</div>
<div class="a" style="left:580.44px;top:487.96px;font-size:20.286px;line-height:1;font-weight:bold;color:#1f9ec6;transform:scaleX(0.9501);transform-origin:0 0;">0.89%</div>
<div class="a" style="left:668.88px;top:520.00px;font-size:13.100px;line-height:1;font-weight:bold;color:#1f9ec6;transform:scaleX(1.0102);transform-origin:0 0;">山东省</div>
<div class="a" style="left:669.28px;top:534.75px;font-size:25.000px;line-height:1;font-weight:bold;color:#1f9ec6;transform:scaleX(0.8960);transform-origin:0 0;">5.48%</div>
<div class="a" style="left:700.40px;top:585.60px;font-size:13.100px;line-height:1;font-weight:bold;color:#1f9ec6;transform:scaleX(1.0102);transform-origin:0 0;">江苏省</div>
<div class="a" style="left:700.05px;top:600.51px;font-size:20.571px;line-height:1;font-weight:bold;color:#1f9ec6;transform:scaleX(0.9192);transform-origin:0 0;">0.80%</div>
<div class="a" style="left:726.25px;top:644.40px;font-size:12.800px;line-height:1;font-weight:bold;color:#1f9ec6;transform:scaleX(1.0420);transform-origin:0 0;">黑龙江省</div>
<div class="a" style="left:725.64px;top:659.96px;font-size:20.929px;line-height:1;font-weight:bold;color:#1f9ec6;transform:scaleX(0.9174);transform-origin:0 0;">0.23%</div>

<!-- dots -->
<div class="dot" style="left:51px;top:1105.75px;background:#d21f6a"></div>
<div class="dot" style="left:71px;top:1105.75px;background:#f7bf00"></div>
<div class="dot" style="left:91px;top:1105.75px;background:#0a6fc1"></div>
</body></html>
